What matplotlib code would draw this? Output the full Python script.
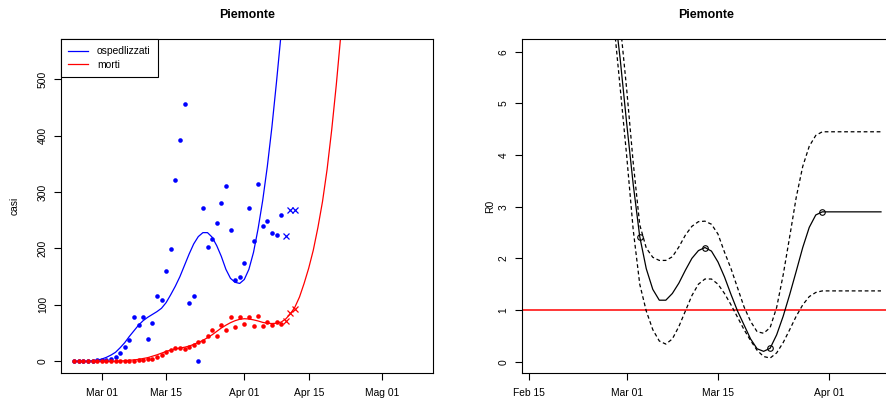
import numpy as np
import matplotlib
matplotlib.use("Agg")
import matplotlib.pyplot as plt
import matplotlib.dates as mdates
from matplotlib.lines import Line2D

plt.rcParams['font.family'] = ['Liberation Sans', 'DejaVu Sans']

# ---------------- left panel data ----------------
start_left = np.datetime64('2020-02-24')
osp_obs = [0, 0, 0, 0, 1, 2, 3, 3, 5, 8, 15, 25, 38, 78, 64, 78, 39, 68, 115, 109,
           160, 199, 321, 392, 455, 103, 116, 0, 272, 203, 216, 245, 280, 311, 233,
           144, 149, 174, 271, 214, 314, 240, 249, 228, 224, 259]
osp_new = [222, 268, 268]
morti_obs = [0, 0, 0, 0, 0, 0, 0, 0, 0, 0, 0, 0, 1, 1, 2, 3, 4, 4, 8, 12,
             16, 20, 23, 24, 22, 26, 29, 35, 36, 45, 55, 45, 65, 56, 79, 60, 79,
             67, 79, 63, 81, 62, 69, 64, 70, 67]
morti_new = [71, 86, 93]

osp_fit = [0, 0, 0, 0, 1, 2, 4, 7, 11, 16, 24, 33, 44, 54, 64, 72, 78, 83, 88, 94,
           104, 118, 133, 150, 170, 190, 208, 221, 228, 228, 220, 205, 186, 163, 147,
           140, 138, 145, 163, 193, 235, 285, 345, 415, 495, 580]
morti_fit = [0, 0, 0, 0, 0, 0, 0, 0, 0, 0, 0.5, 1, 2, 2.5, 3.5, 5, 6.5, 9, 11.5, 14.5,
             17.5, 20, 22, 23.5, 25, 27, 30, 33.5, 37, 42, 47, 53, 59, 64, 68.5, 72,
             74.5, 75.5, 75, 73.5, 71.5, 69, 67.5, 67, 67.5, 69.5, 75, 84, 96, 114,
             138, 165, 197, 237, 283, 340, 410, 490, 580]

left_ticks = ['2020-03-01', '2020-03-15', '2020-04-01', '2020-04-15', '2020-05-01']
left_ticklabels = ['Mar 01', 'Mar 15', 'Apr 01', 'Apr 15', 'Mag 01']

# ---------------- right panel data ----------------
start_right = np.datetime64('2020-02-27')   # 3 days before Mar 01 (leap year)
r0_mid = [8.1, 6.95, 5.86, 4.61, 3.43, 2.42, 1.80, 1.40, 1.19, 1.19, 1.32, 1.52, 1.77,
          2.00, 2.15, 2.21, 2.14, 1.93, 1.64, 1.30, 0.98, 0.71, 0.44, 0.25, 0.20, 0.26,
          0.52, 0.88, 1.30, 1.75, 2.21, 2.60, 2.84, 2.90, 2.90, 2.90, 2.90, 2.90, 2.90,
          2.90, 2.90, 2.90, 2.90]
r0_hi = [8.9, 7.75, 6.55, 5.27, 3.85, 2.65, 2.20, 2.02, 1.96, 1.96, 2.03, 2.22, 2.45,
         2.62, 2.71, 2.72, 2.66, 2.47, 2.12, 1.80, 1.43, 1.06, 0.78, 0.58, 0.55, 0.66,
         1.05, 1.68, 2.42, 3.18, 3.78, 4.17, 4.38, 4.45, 4.45, 4.45, 4.45, 4.45, 4.45,
         4.45, 4.45, 4.45, 4.45]
r0_lo = [7.9, 6.6, 5.3, 3.98, 2.55, 1.50, 0.98, 0.62, 0.40, 0.34, 0.44, 0.68, 0.98,
         1.28, 1.50, 1.60, 1.60, 1.50, 1.32, 1.10, 0.86, 0.62, 0.41, 0.22, 0.10, 0.07,
         0.17, 0.37, 0.62, 0.88, 1.10, 1.26, 1.34, 1.37, 1.37, 1.37, 1.37, 1.37, 1.37,
         1.37, 1.37, 1.37, 1.37]
knot_dates = ['2020-03-03', '2020-03-13', '2020-03-23', '2020-03-31']
knot_vals = [2.42, 2.21, 0.26, 2.90]
right_ticks = ['2020-02-15', '2020-03-01', '2020-03-15', '2020-04-01']
right_ticklabels = ['Feb 15', 'Mar 01', 'Mar 15', 'Apr 01']

# ---------------- figure ----------------
W, H = 887, 403
fig = plt.figure(figsize=(W / 100, H / 100), dpi=100)

def px_axes(x0, y0, x1, y1):
    return fig.add_axes([x0 / W, 1 - y1 / H, (x1 - x0) / W, (y1 - y0) / H])

axL = px_axes(61, 39.3, 433, 373.3)
axR = px_axes(521.7, 39.3, 890, 373.3)

fs = 7.4

def style(ax):
    for s in ax.spines.values():
        s.set_color('black')
        s.set_linewidth(0.8)
    ax.tick_params(axis='both', direction='out', length=5, width=0.8,
                   labelsize=fs, colors='black')
    ax.tick_params(axis='x', pad=5.5)
    ax.tick_params(axis='y', pad=4.5)
    for lab in ax.get_yticklabels():
        lab.set_rotation(90)
        lab.set_va('center')

def dates(start, n):
    return (start + np.arange(n)).astype(object)

# left panel
axL.plot(dates(start_left, len(osp_fit)), osp_fit, color='blue', lw=0.9)
axL.plot(dates(start_left, len(morti_fit)), morti_fit, color='red', lw=0.9)
axL.plot(dates(start_left, len(osp_obs)), osp_obs, 'o', color='blue', ms=3.3, mec='none')
axL.plot(dates(start_left, len(morti_obs)), morti_obs, 'o', color='red', ms=3.3, mec='none')
d_new = dates(start_left + len(osp_obs), len(osp_new))
axL.plot(d_new, osp_new, 'x', color='blue', ms=4.3, mew=0.9)
axL.plot(d_new, morti_new, 'x', color='red', ms=4.3, mew=0.9)

mar1 = mdates.date2num(np.datetime64('2020-03-01'))
axL.set_xlim(mar1 - (101.7 - 61) / 4.6, mar1 + (433 - 101.7) / 4.6)
axL.set_ylim(-21.2, 570.5)
axL.set_xticks([mdates.date2num(np.datetime64(t)) for t in left_ticks])
axL.set_xticklabels(left_ticklabels)
axL.set_yticks([0, 100, 200, 300, 400, 500])
axL.set_yticklabels(['0', '100', '200', '300', '400', '500'])
axL.set_ylabel('casi', fontsize=fs)
axL.yaxis.set_label_coords((19.5 - 61) / 372, 0.5)
axL.set_title('Piemonte', fontsize=8.9, fontweight='bold', pad=15.5)
style(axL)

hl = [Line2D([], [], color='blue', lw=0.9), Line2D([], [], color='red', lw=0.9)]
leg = axL.legend(hl, ['ospedlizzati', 'morti'], loc='upper left', fontsize=fs,
                 frameon=True, fancybox=False, edgecolor='black', framealpha=1,
                 borderaxespad=0, handlelength=1.95, handletextpad=0.85,
                 labelspacing=0.3, borderpad=0.7)
leg.get_frame().set_linewidth(0.8)

# right panel
d_r = dates(start_right, len(r0_mid))
axR.axhline(1, color='red', lw=1.1)
axR.plot(d_r, r0_mid, color='black', lw=0.9)
axR.plot(d_r, r0_hi, color='black', lw=0.9, ls=(0, (3, 2.2)))
axR.plot(d_r, r0_lo, color='black', lw=0.9, ls=(0, (3, 2.2)))
axR.plot([np.datetime64(d).astype(object) for d in knot_dates], knot_vals, 'o',
         mfc='none', mec='black', ms=4, mew=0.8)
axR.set_xlim(mar1 - (626.7 - 521.7) / 6.52, mar1 + (890 - 626.7) / 6.52)
axR.set_ylim(-0.225, 6.24)
axR.set_xticks([mdates.date2num(np.datetime64(t)) for t in right_ticks])
axR.set_xticklabels(right_ticklabels)
axR.set_yticks(range(7))
axR.set_yticklabels([str(i) for i in range(7)])
axR.set_ylabel('R0', fontsize=fs)
axR.yaxis.set_label_coords((495 - 521.7) / 368.3, 0.5)
axR.set_title('Piemonte', fontsize=8.9, fontweight='bold', pad=15.5)
style(axR)

fig.savefig('out.png', dpi=100)
